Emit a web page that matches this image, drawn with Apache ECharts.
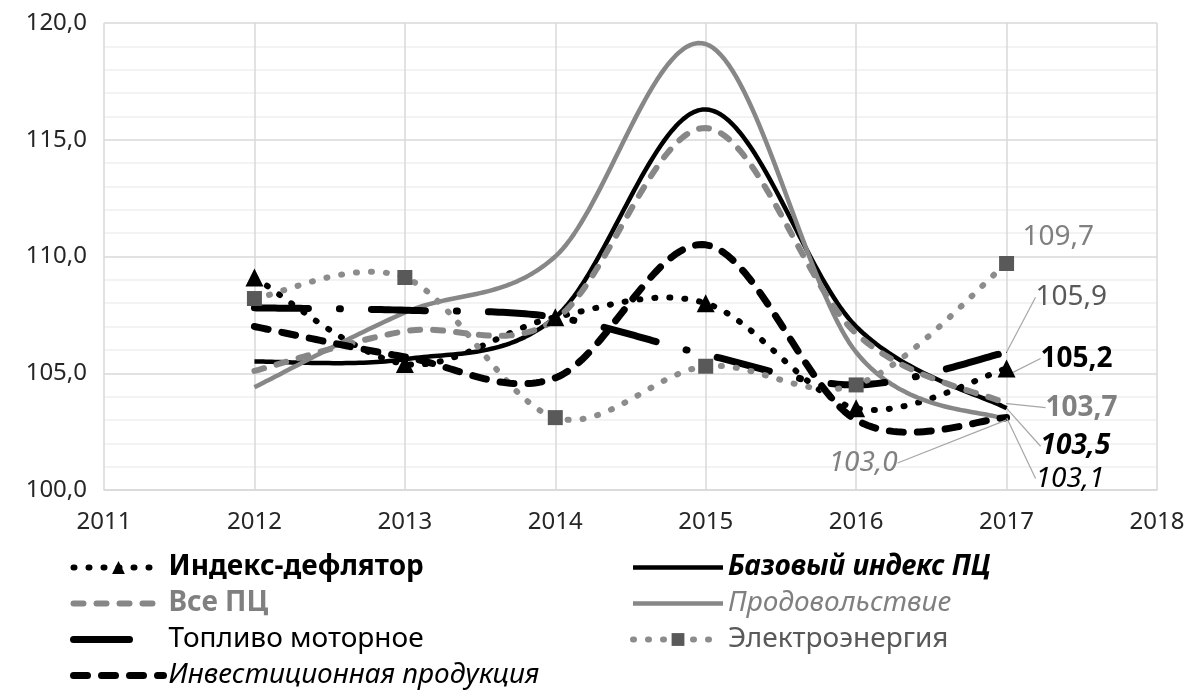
<!DOCTYPE html>
<html>
<head>
<meta charset="utf-8">
<script src="https://cdn.jsdelivr.net/npm/echarts@6/dist/echarts.min.js"></script>
<style>
  html, body { margin: 0; padding: 0; background: #fff; }
  #chart { width: 1192px; height: 690px; }
</style>
</head>
<body>
<div id="chart"></div>
<script>
// годы и значения индексов
var years = [2012, 2013, 2014, 2015, 2016, 2017];
var deflator = [109.1, 105.4, 107.4, 108.0, 103.5, 105.2];
var baseIdx = [105.5, 105.6, 107.4, 116.3, 107.0, 103.5];
var allPc = [105.1, 106.8, 107.3, 115.5, 106.7, 103.7];
var food = [104.4, 107.6, 110.0, 119.1, 105.9, 103.0];
var fuel = [107.8, 107.7, 107.4, 105.8, 104.5, 105.9];
var power = [108.2, 109.1, 103.1, 105.3, 104.5, 109.7];
var invest = [107.0, 105.7, 104.8, 110.5, 103.0, 103.1];

var FONT = 'Noto Sans';
var GREY = '#878787';

function fmt(v) {
  return v.toFixed(1).replace('.', ',');
}

// сглаживание как в Excel (Catmull-Rom), по пиксельным координатам оси
function spline(p) {
  var out = [p[0]];
  for (var i = 0; i < p.length - 1; i++) {
    var p0 = p[i - 1] || p[i], p1 = p[i], p2 = p[i + 1], p3 = p[i + 2] || p[i + 1];
    var c1 = [p1[0] + (p2[0] - p0[0]) / 6, p1[1] + (p2[1] - p0[1]) / 6];
    var c2 = [p2[0] - (p3[0] - p1[0]) / 6, p2[1] - (p3[1] - p1[1]) / 6];
    for (var k = 1; k <= 40; k++) {
      var t = k / 40, u = 1 - t;
      var a = u * u * u, b = 3 * u * u * t, c = 3 * u * t * t, d = t * t * t;
      out.push([a * p1[0] + b * c1[0] + c * c2[0] + d * p2[0],
                a * p1[1] + b * c1[1] + c * c2[1] + d * p2[1]]);
    }
  }
  return out;
}

function curve(vals, ls) {
  return {
    type: 'custom', silent: true,
    data: years.map(function (y, i) { return [y, vals[i]]; }),
    renderItem: function (params, api) {
      if (params.dataIndex !== 0) return null;
      var p = years.map(function (y, i) { return api.coord([y, vals[i]]); });
      return {
        type: 'polyline',
        shape: { points: spline(p) },
        style: {
          fill: 'none', stroke: ls.color, lineWidth: ls.width,
          lineDash: ls.dash || null, lineCap: ls.dash ? 'round' : 'butt', lineJoin: 'round'
        }
      };
    }
  };
}

// подпись только у последней точки
function pts(vals, lbl, sym, size) {
  return vals.map(function (v, i) {
    if (i < vals.length - 1) return [years[i], v];
    return {
      value: [years[i], v],
      symbol: sym || 'circle',
      symbolSize: size || 1,
      label: Object.assign({
        show: true,
        fontFamily: FONT,
        fontSize: 28,
        formatter: function (p) { return fmt(p.value[1]); }
      }, lbl)
    };
  });
}

// сдвиг подписи относительно точки
function shift(dx, dy, align) {
  return function (p) {
    var cx = p.rect.x + p.rect.width / 2;
    var cy = p.rect.y + p.rect.height / 2;
    return { x: cx + dx, y: cy + dy, align: align || 'left', verticalAlign: 'middle' };
  };
}

var leader = { show: true, lineStyle: { color: '#a6a6a6', width: 1.2 } };
var noSym = { color: 'rgba(0,0,0,0)', borderColor: 'rgba(0,0,0,0)', borderWidth: 0 };

var S = {
  deflator: { color: '#000', width: 6, dash: [1, 14] },
  base: { color: '#000', width: 4.5 },
  allPc: { color: GREY, width: 6, dash: [10, 13] },
  food: { color: GREY, width: 4.5 },
  fuel: { color: '#000', width: 7, dash: [54, 31, 1, 31] },
  power: { color: '#8c8c8c', width: 6, dash: [1, 14] },
  invest: { color: '#000', width: 7, dash: [14, 14] }
};

function legLine(ls, dash) {
  var d = dash || ls.dash;
  return { color: ls.color, width: ls.width, type: d || 'solid', cap: d ? 'round' : 'butt', opacity: 1 };
}

var legendBase = {
  orient: 'vertical', top: 553, padding: 0, height: 140,
  itemWidth: 90, itemHeight: 16, itemGap: 7,
  textStyle: { fontFamily: FONT, fontSize: 28, lineHeight: 29, color: '#000' }
};

// линии серии не рисуются (ширина 0) — кривые дают custom-серии
function markSeries(name, vals, ls, lbl, layout, sym, size, symColor) {
  return {
    name: name, type: 'line',
    symbol: sym || 'none', symbolSize: size || 1,
    itemStyle: { color: symColor || ls.color },
    lineStyle: { color: ls.color, width: 0 },
    labelLine: layout.line === false ? { show: false } : leader,
    labelLayout: layout.fn,
    data: pts(vals, lbl, sym, size)
  };
}

var chart = echarts.init(document.getElementById('chart'));
chart.setOption({
  animation: false,
  backgroundColor: '#fff',
  grid: { left: 104, right: 35, top: 23, bottom: 200 },
  xAxis: {
    type: 'value',
    min: 2011, max: 2018, interval: 1,
    axisLine: { show: true, lineStyle: { color: '#d9d9d9', width: 1.5 } },
    axisTick: { show: false },
    splitLine: { show: true, lineStyle: { color: '#d9d9d9', width: 1.5 } },
    axisLabel: {
      color: '#262626', fontFamily: FONT, fontSize: 24, margin: 20,
      formatter: function (v) { return String(v); }
    }
  },
  yAxis: {
    type: 'value',
    min: 100, max: 120, interval: 5,
    axisLine: { show: false },
    axisTick: { show: false },
    splitLine: { show: true, lineStyle: { color: '#d9d9d9', width: 1.5 } },
    minorTick: { show: false, splitNumber: 5 },
    minorSplitLine: { show: true, lineStyle: { color: '#efefef', width: 1.5 } },
    axisLabel: { color: '#262626', fontFamily: FONT, fontSize: 24, margin: 17, formatter: fmt }
  },
  legend: [
    Object.assign({}, legendBase, {
      left: 70,
      data: [
        { name: 'Индекс-дефлятор', lineStyle: legLine(S.deflator), itemStyle: { color: '#000' },
          textStyle: { fontWeight: 'bold' } },
        { name: 'Все ПЦ', lineStyle: legLine(S.allPc), itemStyle: noSym,
          textStyle: { fontWeight: 'bold', color: '#808080' } },
        { name: 'Топливо моторное', lineStyle: legLine(S.fuel, [56, 200]), itemStyle: noSym },
        { name: 'Инвестиционная продукция', lineStyle: legLine(S.invest), itemStyle: noSym,
          textStyle: { fontStyle: 'italic' } }
      ]
    }),
    Object.assign({}, legendBase, {
      left: 630,
      data: [
        { name: 'Базовый индекс ПЦ', lineStyle: legLine(S.base), itemStyle: noSym,
          textStyle: { fontWeight: 'bold', fontStyle: 'italic' } },
        { name: 'Продовольствие', lineStyle: legLine(S.food), itemStyle: noSym,
          textStyle: { fontStyle: 'italic', color: '#808080' } },
        { name: 'Электроэнергия', lineStyle: legLine(S.power), itemStyle: { color: '#595959' },
          textStyle: { color: '#595959' } }
      ]
    })
  ],
  series: [
    curve(deflator, S.deflator),
    curve(baseIdx, S.base),
    curve(allPc, S.allPc),
    curve(food, S.food),
    curve(fuel, S.fuel),
    curve(power, S.power),
    curve(invest, S.invest),
    markSeries('Индекс-дефлятор', deflator, S.deflator,
      { color: '#000', fontWeight: 'bold' }, { fn: shift(34, -10) }, 'triangle', 18, '#000'),
    markSeries('Базовый индекс ПЦ', baseIdx, S.base,
      { color: '#000', fontWeight: 'bold', fontStyle: 'italic' }, { fn: shift(34, 38) }),
    markSeries('Все ПЦ', allPc, S.allPc,
      { color: '#808080', fontWeight: 'bold' }, { fn: shift(39, 4) }),
    markSeries('Продовольствие', food, S.food,
      { color: '#808080', fontStyle: 'italic' }, { fn: shift(-109, 43, 'right') }),
    markSeries('Топливо моторное', fuel, S.fuel,
      { color: '#595959' }, { fn: shift(29, -55) }),
    markSeries('Электроэнергия', power, S.power,
      { color: '#808080' }, { fn: shift(16, -26), line: false }, 'rect', 15, '#595959'),
    markSeries('Инвестиционная продукция', invest, S.invest,
      { color: '#000', fontStyle: 'italic' }, { fn: shift(29, 61) })
  ]
});
</script>
</body>
</html>
